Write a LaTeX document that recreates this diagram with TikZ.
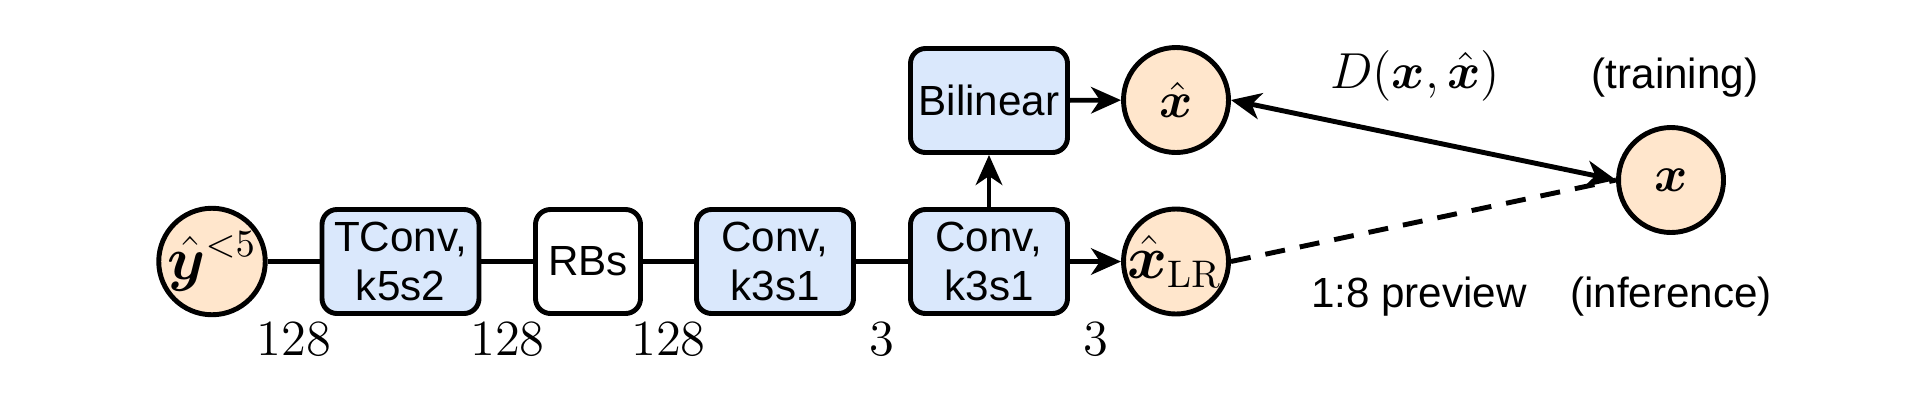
\documentclass[tikz,border=0pt]{standalone}
\usepackage{amsmath,amssymb,bm}
\usepackage[no-math]{fontspec}
\setmainfont{Liberation Sans}
\usepackage{tikz}
\usetikzlibrary{positioning,arrows.meta,shapes}

\definecolor{varorange}{HTML}{FFE6CC}
\definecolor{opblue}{HTML}{DAE8FC}
\newcommand{\mathsize}{\fontsize{14.4}{17}\selectfont}
\newcommand{\bigmathsize}{\fontsize{16}{19}\selectfont}
\newcommand{\textsize}{\fontsize{12}{13.8}\selectfont}

\begin{document}
\begin{tikzpicture}[line width=1.4pt,
                       >={Stealth[length=8.5pt,width=7.5pt,inset=2.5pt]},
                       var node/.style={circle,fill=varorange,draw,inner sep=0pt,
                                         minimum size=1.05cm,font=\mathsize},
                       op node/.style={rectangle,rounded corners=0.15cm,fill=opblue,draw,
                                         inner sep=0pt,minimum width=1.57cm,
                                         minimum height=1.04cm,align=center,font=\textsize},
                       dim label/.style={inner sep=0pt,anchor=base,font=\mathsize},
                       note label/.style={inner sep=0pt,anchor=base,font=\textsize}
                           ]
   \useasboundingbox (0,0) rectangle (19.17,4.09);
   % nodes
   \node[var node,font=\bigmathsize] (yhat) at (2.12,1.475) {$\hat{\bm{y}}^{<5}$};
   \node[op node] (tconv) at (4.005,1.475) {TConv,\\k5s2};
   \node[op node,fill=white,minimum width=1.05cm] (rbs) at (5.88,1.475) {RBs};
   \node[op node] (conva) at (7.75,1.475) {Conv,\\k3s1};
   \node[op node] (convb) at (9.89,1.475) {Conv,\\k3s1};
   \node[op node] (bilin) at (9.89,3.085) {Bilinear};
   \node[var node] (xhat) at (11.76,3.09) {$\hat{\bm{x}}$};
   \node[var node,font=\bigmathsize] (xlr) at (11.76,1.475) {\hspace*{-1pt}$\hat{\bm{x}}_{\mathrm{LR}}$};
   \node[var node] (x) at (16.71,2.29) {$\bm{x}$};
   % channel numbers
   \node[dim label] (ca) at (2.94,0.54) {$128$};
   \node[dim label] (cb) at (5.075,0.54) {$128$};
   \node[dim label] (cc) at (6.685,0.54) {$128$};
   \node[dim label] (cd) at (8.82,0.54) {$3$};
   \node[dim label] (ce) at (10.96,0.54) {$3$};
   % notes
   \node[dim label] (dist) at (14.15,3.21) {$D(\bm{x},\hat{\bm{x}})$};
   \node[note label] (train) at (16.75,3.21) {(training)};
   \node[note label] (prev) at (14.19,1.02) {1:8 preview};
   \node[note label] (infer) at (16.71,1.02) {(inference)};
      \path%
    (yhat) edge node {} (tconv)
    (tconv) edge node {} (rbs)
    (rbs) edge node {} (conva)
    (conva) edge node {} (convb)
    (convb) edge [->] node {} (xlr)
    (convb) edge [->] node {} (bilin)
    (bilin) edge [->] node {} (xhat)
    (xhat.east) edge [<->] node {} (x.west)
    (xlr.east) edge [dash pattern=on 5.7pt off 4.3pt] node {} (x.west);
      \end{tikzpicture}
\end{document}
